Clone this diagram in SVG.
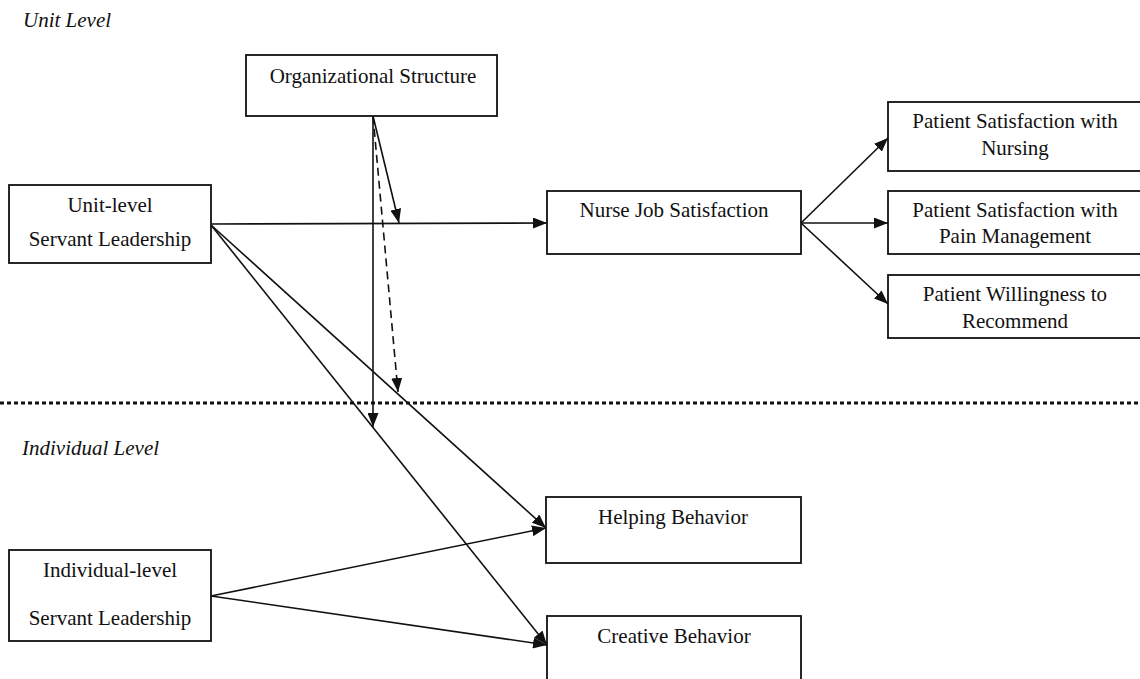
<svg xmlns="http://www.w3.org/2000/svg" width="1140" height="679" viewBox="0 0 1140 679">
<style>
.box{fill:#fff;stroke:#111;stroke-width:1.8}
.t{font-family:'Times New Roman','Liberation Serif','DejaVu Serif',serif;font-size:21px;fill:#111;text-anchor:middle}
.lvl{font-family:'Times New Roman','Liberation Serif','DejaVu Serif',serif;font-size:21px;font-style:italic;fill:#111}
.c{stroke:#111;stroke-width:1.6;fill:none;marker-end:url(#ah)}
.d{stroke-dasharray:8 5}
</style>
<defs>
<marker id="ah" markerUnits="userSpaceOnUse" markerWidth="15" markerHeight="11" refX="14" refY="5.5" orient="auto">
<path d="M0,0 L14,5.5 L0,11 z" fill="#111"/>
</marker>
</defs>
<rect width="1140" height="679" fill="#fff"/>
<text class="lvl" x="23" y="27">Unit Level</text>
<text class="lvl" x="22" y="455">Individual Level</text>
<line x1="0" y1="403" x2="1140" y2="403" stroke="#111" stroke-width="3" stroke-dasharray="4 3"/>
<g id="connectors">
<line class="c" x1="211" y1="224" x2="547" y2="223"/>
<line class="c" x1="373" y1="116" x2="399" y2="223"/>
<line class="c d" x1="373" y1="116" x2="398" y2="392"/>
<line class="c" x1="373" y1="116" x2="373" y2="427"/>
<line class="c" x1="211" y1="225" x2="546" y2="528"/>
<line class="c" x1="211" y1="225" x2="547" y2="645"/>
<line class="c" x1="211" y1="596" x2="546" y2="528"/>
<line class="c" x1="211" y1="596" x2="547" y2="645"/>
<line class="c" x1="801" y1="223" x2="888" y2="138"/>
<line class="c" x1="801" y1="223" x2="888" y2="223"/>
<line class="c" x1="801" y1="223" x2="888" y2="304"/>
</g>
<g id="org">
<rect class="box" x="246" y="55" width="251" height="61"/>
<text class="t" x="373" y="83">Organizational Structure</text>
</g>
<g id="unit">
<rect class="box" x="9" y="185" width="202" height="78"/>
<text class="t" x="110" y="212">Unit-level</text>
<text class="t" x="110" y="246">Servant Leadership</text>
</g>
<g id="nurse">
<rect class="box" x="547" y="191" width="254" height="63"/>
<text class="t" x="674" y="217">Nurse Job Satisfaction</text>
</g>
<g id="psn">
<rect class="box" x="888" y="102" width="260" height="69"/>
<text class="t" x="1015" y="128">Patient Satisfaction with</text>
<text class="t" x="1015" y="155">Nursing</text>
</g>
<g id="pspm">
<rect class="box" x="888" y="191" width="260" height="63"/>
<text class="t" x="1015" y="217">Patient Satisfaction with</text>
<text class="t" x="1015" y="243">Pain Management</text>
</g>
<g id="pwr">
<rect class="box" x="888" y="275" width="260" height="63"/>
<text class="t" x="1015" y="301">Patient Willingness to</text>
<text class="t" x="1015" y="328">Recommend</text>
</g>
<g id="indiv">
<rect class="box" x="9" y="550" width="202" height="91"/>
<text class="t" x="110" y="577">Individual-level</text>
<text class="t" x="110" y="625">Servant Leadership</text>
</g>
<g id="helping">
<rect class="box" x="546" y="497" width="255" height="66"/>
<text class="t" x="673" y="524">Helping Behavior</text>
</g>
<g id="creative">
<rect class="box" x="547" y="616" width="254" height="80"/>
<text class="t" x="674" y="643">Creative Behavior</text>
</g>
</svg>
